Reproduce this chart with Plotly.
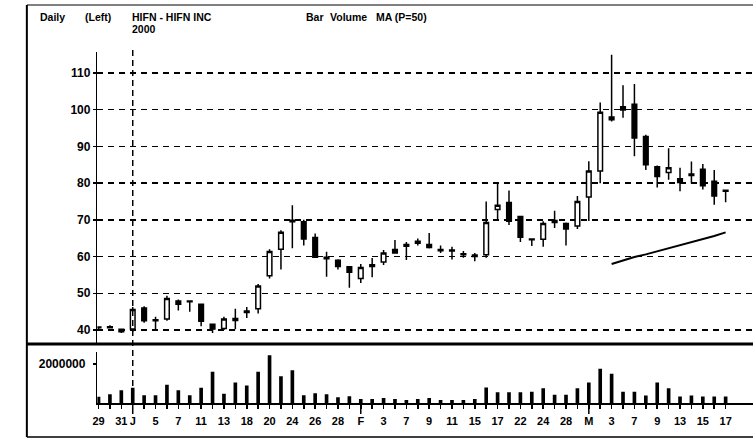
import plotly.graph_objects as go

# ---------------- data ----------------
dates = ["1999-12-29", "1999-12-30", "1999-12-31", "2000-01-03", "2000-01-04", "2000-01-05",
         "2000-01-06", "2000-01-07", "2000-01-10", "2000-01-11", "2000-01-12", "2000-01-13",
         "2000-01-14", "2000-01-18", "2000-01-19", "2000-01-20", "2000-01-21", "2000-01-24",
         "2000-01-25", "2000-01-26", "2000-01-27", "2000-01-28", "2000-01-31", "2000-02-01",
         "2000-02-02", "2000-02-03", "2000-02-04", "2000-02-07", "2000-02-08", "2000-02-09",
         "2000-02-10", "2000-02-11", "2000-02-14", "2000-02-15", "2000-02-16", "2000-02-17",
         "2000-02-18", "2000-02-22", "2000-02-23", "2000-02-24", "2000-02-25", "2000-02-28",
         "2000-02-29", "2000-03-01", "2000-03-02", "2000-03-03", "2000-03-06", "2000-03-07",
         "2000-03-08", "2000-03-09", "2000-03-10", "2000-03-13", "2000-03-14", "2000-03-15",
         "2000-03-16", "2000-03-17"]

tick_labels = ["29", "", "31", "J", "", "5", "", "7", "", "11", "", "13", "", "18", "", "20",
               "", "24", "", "26", "", "28", "", "F", "", "3", "", "7", "", "9", "", "11", "",
               "15", "", "17", "", "22", "", "24", "", "28", "", "M", "", "3", "", "7", "",
               "9", "", "13", "", "15", "", "17"]

opens = [40.6, 40.9, 40.2, 40.3, 46.0, 42.5, 43.0, 47.9, 47.7, 47.0, 41.6, 40.4, 42.6, 44.8,
         45.8, 54.8, 62.0, 69.9, 69.5, 65.2, 59.8, 59.0, 57.2, 54.0, 57.3, 58.5, 61.9, 62.8,
         64.2, 63.3, 61.6, 61.8, 60.5, 60.0, 60.5, 72.8, 74.7, 70.9, 64.8, 64.7, 69.3, 69.0,
         68.3, 76.2, 83.3, 98.0, 100.8, 101.5, 92.7, 84.5, 82.9, 81.2, 82.5, 83.8, 80.5, 77.8]
highs = [41.0, 41.3, 40.4, 46.3, 46.5, 43.6, 49.3, 48.3, 48.0, 47.2, 41.8, 43.6, 45.8, 46.3,
         52.5, 62.0, 67.2, 74.0, 70.0, 66.3, 61.3, 59.3, 57.4, 58.0, 59.6, 61.8, 64.5, 64.0,
         64.9, 66.4, 63.0, 62.7, 61.5, 61.0, 75.0, 80.0, 78.0, 71.0, 65.0, 69.6, 72.5, 69.3,
         76.5, 86.0, 102.0, 115.0, 106.7, 107.0, 93.2, 84.8, 89.5, 84.2, 85.9, 85.2, 83.6, 78.2]
lows = [40.3, 40.4, 39.2, 39.5, 42.0, 40.0, 42.5, 45.3, 45.0, 41.0, 39.2, 40.0, 40.2, 43.3,
        44.5, 54.0, 56.5, 62.3, 63.0, 59.6, 54.5, 56.5, 51.5, 52.8, 54.4, 57.7, 60.8, 59.1,
        63.0, 62.2, 61.0, 59.2, 59.7, 58.7, 59.7, 70.0, 68.6, 64.0, 62.9, 62.7, 67.8, 63.0,
        67.5, 69.7, 80.0, 96.8, 97.8, 87.3, 83.6, 78.8, 80.9, 77.8, 80.0, 78.3, 74.1, 74.8]
closes = [40.8, 40.6, 39.5, 45.6, 42.5, 42.8, 48.6, 47.0, 47.9, 42.4, 40.3, 43.0, 43.1, 45.2,
          52.0, 61.4, 66.6, 69.5, 64.8, 59.8, 59.4, 57.3, 55.7, 57.0, 57.8, 61.0, 61.0, 63.3,
          63.6, 62.5, 61.9, 61.5, 60.8, 60.4, 69.3, 74.0, 69.6, 65.3, 64.6, 69.0, 69.8, 67.5,
          75.0, 83.3, 99.3, 97.3, 99.9, 92.3, 85.0, 81.8, 84.2, 80.2, 82.1, 79.3, 76.5, 78.1]

volumes = [320000, 450000, 650000, 780000, 400000, 400000, 930000, 650000, 400000, 780000,
           1600000, 480000, 1050000, 900000, 1600000, 2450000, 1370000, 1680000, 400000, 500000,
           450000, 300000, 350000, 200000, 200000, 250000, 200000, 150000, 200000, 250000,
           150000, 150000, 150000, 200000, 800000, 550000, 550000, 550000, 580000, 750000,
           420000, 420000, 750000, 1050000, 1750000, 1500000, 580000, 580000, 380000, 1050000,
           750000, 330000, 380000, 330000, 330000, 330000]

ma_start = 45  # first trading day with a visible MA(50) value (2000-03-03)
ma50 = [58.0, 59.0, 59.9, 60.6, 61.4, 62.2, 63.0, 63.8, 64.7, 65.6, 66.6]

price_ticks = [40, 50, 60, 70, 80, 90, 100, 110]
volume_ticks = [2000000]
volume_tick_text = ["2000000"]

# ---------------- figure ----------------
W, H = 753, 448
idx = list(range(len(dates)))
ma_x = idx[ma_start:ma_start + len(ma50)]
month_starts = [i for i in range(1, len(dates)) if dates[i][5:7] != dates[i - 1][5:7]]
year_start = [i for i in range(1, len(dates)) if dates[i][:4] != dates[i - 1][:4]][0]

def py(px):
    return 1 - px / H

FAM = "Liberation Sans, Arial, sans-serif"
FONT = dict(family=FAM, size=11, color="black", weight="bold")
FONT_Y = dict(family=FAM, size=12, color="black", weight="bold")
FONT_H = dict(family=FAM, size=10.5, color="black", weight="bold")

fig = go.Figure()
fig.add_trace(go.Candlestick(
    x=idx, open=opens, high=highs, low=lows, close=closes,
    increasing=dict(line=dict(color="black", width=1.5), fillcolor="white"),
    decreasing=dict(line=dict(color="black", width=1.5), fillcolor="black"),
    whiskerwidth=0, xaxis="x", yaxis="y", showlegend=False, hoverinfo="skip"))
fig.add_trace(go.Scatter(x=ma_x, y=ma50, mode="lines", line=dict(color="black", width=2),
                         xaxis="x", yaxis="y", showlegend=False, hoverinfo="skip"))
fig.add_trace(go.Bar(x=idx, y=volumes, width=0.32, marker=dict(color="black", line=dict(width=0)),
                     xaxis="x2", yaxis="y2", showlegend=False, hoverinfo="skip"))

x_dom = [93 / W, 1]
x_rng = [-0.1, 57.4]

fig.update_layout(
    width=W, height=H, margin=dict(l=0, r=0, t=0, b=0),
    paper_bgcolor="white", plot_bgcolor="white", boxgap=0.42,
    font=FONT,
    xaxis=dict(domain=x_dom, range=x_rng, showticklabels=False, showgrid=False,
               zeroline=False, showline=False, ticks="", anchor="y",
               rangeslider=dict(visible=False)),
    yaxis=dict(domain=[py(343), py(52)], range=[36.46, 115.73], tickvals=price_ticks,
               showgrid=True, gridcolor="black", gridwidth=1.5, griddash="6px,5px",
               zeroline=False, showline=True, linecolor="black", linewidth=1.5,
               ticks="outside", ticklen=3, tickwidth=1.5, tickcolor="black",
               tickfont=FONT_Y, anchor="x"),
    xaxis2=dict(domain=x_dom, range=x_rng, tickvals=idx, ticktext=tick_labels,
                showgrid=False, zeroline=False, showline=True, linecolor="black",
                linewidth=1.5, ticks="outside", ticklen=4, tickwidth=1.5, tickcolor="black",
                tickfont=FONT, tickangle=0, ticklabelstandoff=3, anchor="y2"),
    yaxis2=dict(domain=[py(403), py(352)], range=[0, 2615000], tickvals=volume_ticks,
                ticktext=volume_tick_text, showgrid=False, zeroline=False, showline=True,
                linecolor="black", linewidth=1.5, ticks="outside", ticklen=3, tickwidth=1.5,
                tickcolor="black", tickfont=FONT_Y, ticklabelstandoff=5, anchor="x2"),
)

shapes = [
    dict(type="line", xref="paper", yref="paper", x0=22 / W, x1=1, y0=py(344), y1=py(344),
         line=dict(color="black", width=3)),
    dict(type="line", xref="paper", yref="paper", x0=22 / W, x1=22 / W, y0=py(5), y1=py(437),
         line=dict(color="black", width=2)),
    dict(type="line", xref="paper", yref="paper", x0=22 / W, x1=1, y0=py(437), y1=py(437),
         line=dict(color="black", width=1.5)),
    dict(type="line", xref="paper", yref="paper", x0=22 / W, x1=1, y0=py(5), y1=py(5),
         line=dict(color="black", width=1)),
    dict(type="line", xref="x", yref="paper", x0=year_start, x1=year_start, y0=py(50),
         y1=py(403), line=dict(color="black", width=1.5, dash="6px,4px")),
]
for m in month_starts:
    shapes.append(dict(type="line", xref="x2", yref="paper", x0=m, x1=m, y0=py(403), y1=py(414),
                       line=dict(color="black", width=1.5)))
fig.update_layout(shapes=shapes)

header = [("Daily", 34, 17), ("(Left)", 80, 17), ("HIFN - HIFN INC", 127, 17), ("2000", 127, 29),
          ("Bar", 302, 17), ("Volume", 326, 17), ("MA (P=50)", 372, 17)]
fig.update_layout(annotations=[
    dict(text=t, x=xp / W, y=py(yp), xref="paper", yref="paper", xanchor="left",
         yanchor="middle", showarrow=False, font=FONT_H, borderpad=0) for t, xp, yp in header])

fig.write_html("out.html", config={"displayModeBar": False, "staticPlot": True},
               post_script="document.body.style.margin='0px';document.body.style.overflow='hidden';")
